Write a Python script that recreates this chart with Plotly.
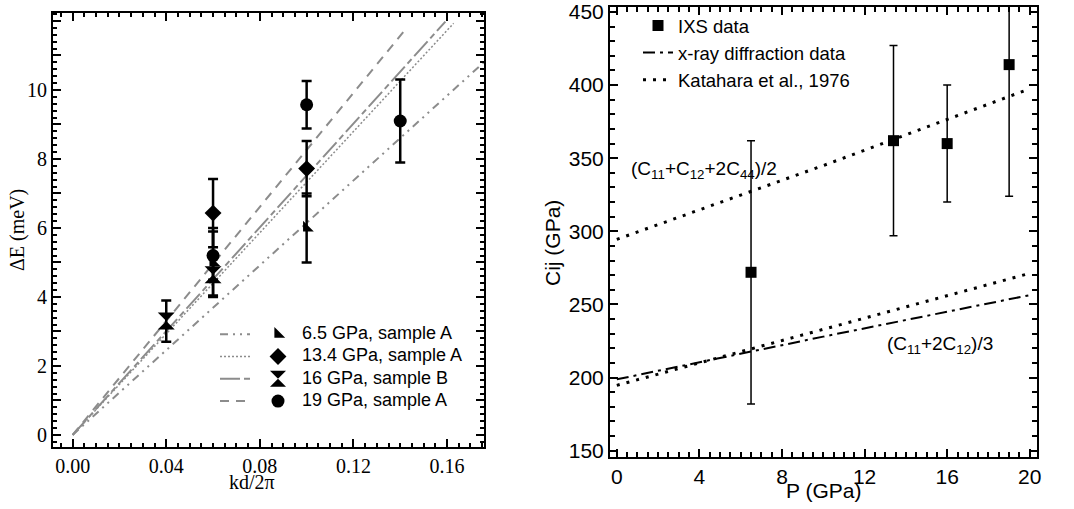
import plotly.graph_objects as go

# ---------------- Left panel data ----------------
kd_65 = [0.06, 0.10]
dE_65 = [5.0, 6.0]
err_65 = [1.0, 1.0]

kd_134 = [0.06, 0.10]
dE_134 = [6.43, 7.72]
err_134 = [0.99, 0.8]

kd_16 = [0.04, 0.06]
dE_16 = [3.3, 4.64]
err_16 = [0.6, 0.6]

kd_19 = [0.06, 0.10, 0.14]
dE_19 = [5.2, 9.57, 9.1]
err_19 = [0.7, 0.69, 1.2]

fit65_x = [0.0, 0.1772]
fit65_y = [0.0, 10.89]
fit134_x = [0.0, 0.1628]
fit134_y = [0.0, 11.93]
fit16_x = [0.0, 0.1593]
fit16_y = [0.0, 11.98]
fit19_x = [0.0, 0.1427]
fit19_y = [0.0, 11.79]

left_names = ["6.5 GPa, sample A", "13.4 GPa, sample A", "16 GPa, sample B", "19 GPa, sample A"]
left_yticks = [0, 1, 2, 3, 4, 5, 6, 7, 8, 9, 10, 11, 12]
left_yticktext = ["0", "", "2", "", "4", "", "6", "", "8", "", "10", "", ""]

# ---------------- Right panel data ----------------
P_ixs = [6.5, 13.4, 16, 19]
C_ixs = [272, 362, 360, 414]
C_err = [90, 65, 40, 90]

P_xray = [0, 10, 20]
C_xray = [198.8, 228, 256.4]

P_kat = [0, 10, 20]
C_kat_upper = [294.5, 345, 397.5]
C_kat_lower = [194.7, 233, 271.3]

# ---------------- Figure ----------------
W, H = 1074, 509
GRAY = "rgb(140,140,140)"
SERIF = "Liberation Serif"
SANS = "Liberation Sans"

fig = go.Figure()

def px(x):
    return x / W

def py(y):
    return 1 - y / H

# fit lines (left, legend for line samples)
fits = [
    (fit65_x, fit65_y, "8px,5px,2px,5px,2px,5px", 2),
    (fit134_x, fit134_y, "2px,2px", 1.5),
    (fit16_x, fit16_y, "20px,4px,6px,4px", 2),
    (fit19_x, fit19_y, "9px,7px", 2),
]
for (fx, fy, dash, w), nm in zip(fits, left_names):
    fig.add_trace(go.Scatter(x=fx, y=fy, mode="lines", xaxis="x", yaxis="y",
                             line=dict(color=GRAY, width=w, dash=dash),
                             name=" ", legend="legend", showlegend=True,
                             hovertext=nm))

# data markers (left)
markers = [
    (kd_65, dE_65, err_65, "triangle-sw", 12),
    (kd_134, dE_134, err_134, "diamond", 13),
    (kd_16, dE_16, err_16, "hourglass", 17),
    (kd_19, dE_19, err_19, "circle", 13),
]
for (mx, my, me, sym, sz), nm in zip(markers, left_names):
    fig.add_trace(go.Scatter(x=mx, y=my, mode="markers", xaxis="x", yaxis="y",
                             marker=dict(symbol=sym, size=sz, color="black"),
                             error_y=dict(type="data", array=me, color="black",
                                          thickness=2.5, width=5),
                             name=" ", hovertext=nm, legend="legend2"))

# right panel
fig.add_trace(go.Scatter(x=P_ixs, y=C_ixs, mode="markers", xaxis="x2", yaxis="y2",
                         marker=dict(symbol="square", size=11, color="black"),
                         error_y=dict(type="data", array=C_err, color="black",
                                      thickness=1.5, width=4),
                         name="IXS data", legend="legend3"))
fig.add_trace(go.Scatter(x=P_xray, y=C_xray, mode="lines", xaxis="x2", yaxis="y2",
                         line=dict(color="black", width=2, dash="12px,5px,3px,5px"),
                         name="x-ray diffraction data", legend="legend3"))
fig.add_trace(go.Scatter(x=P_kat, y=C_kat_upper, mode="lines", xaxis="x2", yaxis="y2",
                         line=dict(color="black", width=3, dash="3px,7px"),
                         name="Katahara et al., 1976", legend="legend3",
                         legendgroup="kat"))
fig.add_trace(go.Scatter(x=P_kat, y=C_kat_lower, mode="lines", xaxis="x2", yaxis="y2",
                         line=dict(color="black", width=3, dash="3px,7px"),
                         name="Katahara et al., 1976", legend="legend3",
                         legendgroup="kat", showlegend=False))

axis_common = dict(showline=True, linewidth=2, linecolor="black", mirror="allticks",
                   ticks="inside", tickwidth=2, tickcolor="black", showgrid=False,
                   zeroline=False, automargin=False)

LEG_FS = 14.85

fig.update_layout(
    width=W, height=H,
    margin=dict(l=0, r=0, t=0, b=0, autoexpand=False),
    plot_bgcolor="white", paper_bgcolor="white",
    showlegend=True,
    xaxis=dict(domain=[px(53), px(484)], range=[-0.0084, 0.1758], anchor="y",
               dtick=0.04, tick0=0, tickformat=".2f", ticklen=8,
               tickfont=dict(family=SERIF, size=20, color="black"),
               minor=dict(dtick=0.005, ticks="inside", ticklen=4, tickwidth=1.5,
                          tickcolor="black", showgrid=False),
               **axis_common),
    yaxis=dict(domain=[py(447), py(13)], range=[-0.35, 12.23], anchor="x",
               tickmode="array", tickvals=left_yticks, ticktext=left_yticktext,
               ticklen=8,
               tickfont=dict(family=SERIF, size=20, color="black"),
               minor=dict(dtick=0.2, ticks="inside", ticklen=4, tickwidth=1.5,
                          tickcolor="black", showgrid=False),
               **axis_common),
    xaxis2=dict(domain=[px(610), px(1037)], range=[-0.33, 20.35], anchor="y2",
                dtick=4, tick0=0, ticklen=8,
                tickfont=dict(family=SANS, size=21, color="black"),
                minor=dict(dtick=0.5, ticks="inside", ticklen=5, tickwidth=1.5,
                           tickcolor="black", showgrid=False),
                **axis_common),
    yaxis2=dict(domain=[py(457), py(7)], range=[145.7, 453.4], anchor="x2",
                dtick=50, tick0=0, ticklen=8,
                tickfont=dict(family=SANS, size=21, color="black"),
                minor=dict(dtick=10, ticks="inside", ticklen=5, tickwidth=1.5,
                           tickcolor="black", showgrid=False),
                **axis_common),
    legend=dict(x=px(215), y=py(318), xanchor="left", yanchor="top",
                bgcolor="rgba(0,0,0,0)", borderwidth=0, tracegroupgap=0,
                font=dict(family=SANS, size=LEG_FS, color="black")),
    legend2=dict(x=px(258), y=py(318), xanchor="left", yanchor="top",
                 bgcolor="rgba(0,0,0,0)", borderwidth=0, tracegroupgap=0,
                 font=dict(family=SANS, size=LEG_FS, color="black")),
    legend3=dict(x=px(638), y=py(7), xanchor="left", yanchor="top",
                 bgcolor="rgba(0,0,0,0)", borderwidth=0, tracegroupgap=0,
                 font=dict(family=SANS, size=18.5, color="black")),
)

left_leg_y = [333, 355, 378, 400]
annotations = [
    dict(text=nm, x=px(300), y=py(yy), xref="paper", yref="paper",
         xanchor="left", yanchor="middle", showarrow=False,
         font=dict(family=SANS, size=18, color="black"))
    for nm, yy in zip(left_names, left_leg_y)
]
annotations += [
    dict(text="kd/2π", x=px(252), y=py(482), xref="paper", yref="paper",
         xanchor="center", yanchor="middle",
         showarrow=False, font=dict(family=SERIF, size=20, color="black")),
    dict(text="ΔE (meV)", x=px(17), y=py(230), xref="paper", yref="paper",
         xanchor="center", yanchor="middle",
         showarrow=False, textangle=-90, font=dict(family=SERIF, size=20, color="black")),
    dict(text="Cij (GPa)", x=px(553), y=py(243), xref="paper", yref="paper",
         xanchor="center", yanchor="middle",
         showarrow=False, textangle=-90, font=dict(family=SANS, size=21, color="black")),
    dict(text="P (GPa)", x=px(823), y=py(490), xref="paper", yref="paper",
         xanchor="center", yanchor="middle",
         showarrow=False, font=dict(family=SANS, size=21, color="black")),
    dict(text="(C<sub>11</sub>+C<sub>12</sub>+2C<sub>44</sub>)/2", x=0.6, y=342,
         xref="x2", yref="y2", xanchor="left", yanchor="middle", showarrow=False,
         font=dict(family=SANS, size=19, color="black")),
    dict(text="(C<sub>11</sub>+2C<sub>12</sub>)/3", x=13.0, y=222,
         xref="x2", yref="y2", xanchor="left", yanchor="middle", showarrow=False,
         font=dict(family=SANS, size=19, color="black")),
]
fig.update_layout(annotations=annotations)

fig.write_html("out.html", config={"displayModeBar": False},
               post_script="document.body.style.margin='0';")
